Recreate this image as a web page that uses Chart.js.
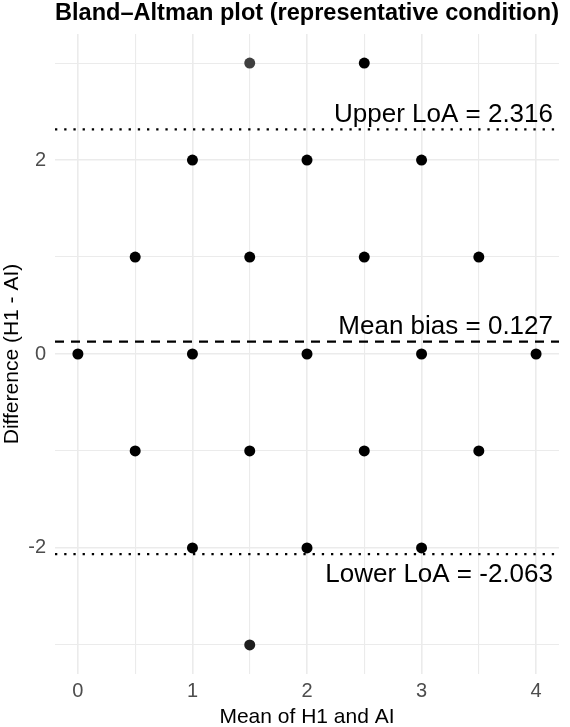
<!DOCTYPE html>
<html>
<head>
<meta charset="utf-8">
<script src="https://cdn.jsdelivr.net/npm/chart.js@4/dist/chart.umd.min.js"></script>
<style>
  html, body { margin: 0; padding: 0; background: #ffffff; }
  #wrap { width: 570px; height: 727px; }
</style>
</head>
<body>
<div id="wrap"><canvas id="c" width="570" height="727"></canvas></div>
<script>
// ---- data ----
const meanVals = [1.5, 2.5, 1, 2, 3, 0.5, 1.5, 2.5, 3.5, 0, 1, 2, 3, 4, 0.5, 1.5, 2.5, 3.5, 1, 2, 3, 1.5];
const diffVals = [3, 3, 2, 2, 2, 1, 1, 1, 1, 0, 0, 0, 0, 0, -1, -1, -1, -1, -2, -2, -2, -3];
const xTickVals = [0, 0.5, 1, 1.5, 2, 2.5, 3, 3.5, 4];
const yTickVals = [-3, -2, -1, 0, 1, 2, 3];
const meanBias = 0.127;
const upperLoA = 2.316;
const lowerLoA = -2.063;
const xLimits = [-0.2, 4.2];
const yLimits = [-3.3, 3.3];

const FONT = "'Liberation Sans', Arial, Helvetica, sans-serif";
const points = meanVals.map((m, i) => ({ x: m, y: diffVals[i] }));

function pointColor(ctx) {
  const r = ctx.raw;
  if (!r) return '#000000';
  if (r.x === 1.5 && r.y === 3) return '#3f3f3f';
  if (r.x === 1.5 && r.y === -3) return '#1e1e1e';
  return '#000000';
}

const refLinePlugin = {
  id: 'refLines',
  afterDatasetsDraw(chart) {
    const { ctx, chartArea, scales } = chart;
    const lines = [
      { v: upperLoA, dash: [2.3, 6.9], text: 'Upper LoA = ' + upperLoA.toFixed(3), above: true },
      { v: meanBias, dash: [9, 7], text: 'Mean bias = ' + meanBias.toFixed(3), above: true },
      { v: lowerLoA, dash: [2.3, 6.9], text: 'Lower LoA = ' + lowerLoA.toFixed(3), above: false }
    ];
    ctx.save();
    lines.forEach(l => {
      const y = scales.y.getPixelForValue(l.v);
      ctx.beginPath();
      ctx.setLineDash(l.dash);
      ctx.lineWidth = 2.3;
      ctx.lineCap = 'butt';
      ctx.strokeStyle = '#000000';
      ctx.moveTo(chartArea.left, y);
      ctx.lineTo(chartArea.right, y);
      ctx.stroke();
      ctx.setLineDash([]);
      ctx.fillStyle = '#000000';
      ctx.font = '26px ' + FONT;
      ctx.textAlign = 'right';
      ctx.textBaseline = 'alphabetic';
      const tx = chartArea.right - 6;
      const ty = l.above ? y - 7.5 : y + 27.5;
      ctx.fillText(l.text, tx, ty);
    });
    ctx.restore();
  }
};

new Chart(document.getElementById('c'), {
  type: 'scatter',
  data: {
    datasets: [{
      data: points,
      pointRadius: 5.5,
      pointHoverRadius: 5.5,
      pointBorderWidth: 0,
      pointBackgroundColor: pointColor,
      pointBorderColor: pointColor
    }]
  },
  options: {
    responsive: false,
    animation: false,
    devicePixelRatio: 1,
    layout: { padding: { left: 0, right: 11, top: 0, bottom: 0 } },
    plugins: {
      legend: { display: false },
      tooltip: { enabled: false },
      title: {
        display: true,
        fullSize: false,
        align: 'start',
        text: 'Bland\u2013Altman plot (representative condition)',
        color: '#000000',
        font: { family: FONT, size: 24, weight: 'bold', lineHeight: 0.85 },
        padding: { top: 3, bottom: 10.6 }
      }
    },
    scales: {
      x: {
        type: 'linear',
        min: xLimits[0],
        max: xLimits[1],
        afterBuildTicks: s => { s.ticks = xTickVals.map(v => ({ value: v })); },
        afterFit: s => { s.height = 53; s.paddingLeft = 0; s.paddingRight = 0; },
        ticks: {
          autoSkip: false,
          maxRotation: 0,
          padding: 5,
          color: '#4d4d4d',
          font: { family: FONT, size: 20 },
          callback: v => Number.isInteger(v) ? String(v) : ''
        },
        grid: {
          drawTicks: false,
          color: '#ebebeb',
          lineWidth: c => (c.tick && Number.isInteger(c.tick.value)) ? 1.6 : 1.1
        },
        border: { display: false },
        title: {
          display: true,
          text: 'Mean of H1 and AI',
          color: '#000000',
          font: { family: FONT, size: 21 },
          padding: { top: 0, bottom: -3 }
        }
      },
      y: {
        type: 'linear',
        min: yLimits[0],
        max: yLimits[1],
        afterBuildTicks: s => { s.ticks = yTickVals.map(v => ({ value: v })); },
        afterFit: s => { s.width = 55; s.paddingTop = 0; s.paddingBottom = 0; },
        ticks: {
          autoSkip: false,
          padding: 9,
          color: '#4d4d4d',
          font: { family: FONT, size: 20 },
          callback: v => (v % 2 === 0) ? String(v) : ''
        },
        grid: {
          drawTicks: false,
          color: '#ebebeb',
          lineWidth: c => (c.tick && c.tick.value % 2 === 0) ? 1.6 : 1.1
        },
        border: { display: false },
        title: {
          display: true,
          text: 'Difference (H1 - AI)',
          color: '#000000',
          font: { family: FONT, size: 21 },
          padding: 0
        }
      }
    }
  },
  plugins: [refLinePlugin]
});
</script>
</body>
</html>
